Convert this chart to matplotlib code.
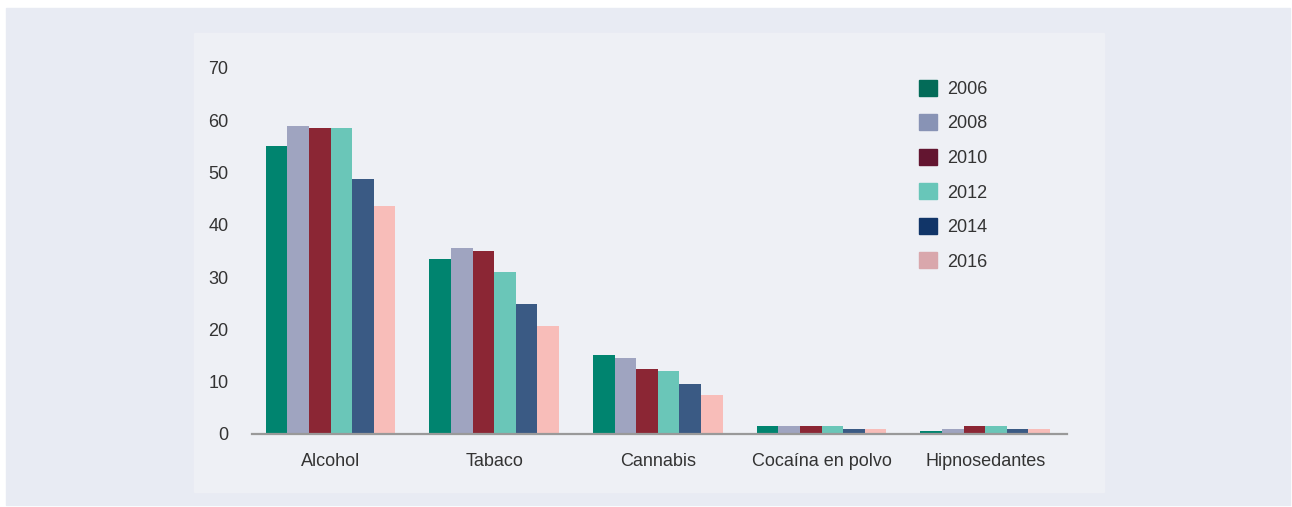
import matplotlib
matplotlib.use("Agg")
import matplotlib.pyplot as plt
from matplotlib.patches import Rectangle, Patch
import numpy as np

categories = ["Alcohol", "Tabaco", "Cannabis", "Cocaína en polvo", "Hipnosedantes"]
years = ["2006", "2008", "2010", "2012", "2014", "2016"]
values = {
    "2006": [55.0, 33.5, 15.1, 1.6, 0.5],
    "2008": [59.0, 35.5, 14.5, 1.6, 1.0],
    "2010": [58.5, 35.0, 12.5, 1.6, 1.6],
    "2012": [58.5, 31.0, 12.0, 1.5, 1.5],
    "2014": [48.8, 24.8, 9.5, 1.0, 1.0],
    "2016": [43.6, 20.6, 7.4, 0.9, 1.0],
}
bar_colors = ["#00846f", "#9fa4c0", "#8b2634", "#6ac6b8", "#3a5a84", "#f8bdb9"]
legend_colors = ["#036b58", "#8893b5", "#631530", "#68c6b9", "#113568", "#d9a7ac"]

plt.rcParams['font.family'] = ['Liberation Sans', 'DejaVu Sans']
text_color = "#333333"

fig = plt.figure(figsize=(12.92, 5.07), dpi=100)
fig.patch.set_facecolor("white")
fig.patches.append(Rectangle((6/1292, 2/507), 1284/1292, 497/507,
                             transform=fig.transFigure, color="#e8ebf3", zorder=-2))
fig.patches.append(Rectangle((194/1292, 15/507), 910/1292, 459/507,
                             transform=fig.transFigure, color="#eef0f5", zorder=-1))

ax = fig.add_axes([252/1292, 73/507, 815/1292, 366/507])
ax.set_facecolor("none")

x = np.arange(len(categories))
width = 0.132
for i, y in enumerate(years):
    ax.bar(x + (i - 2.5) * width, values[y], width, color=bar_colors[i], zorder=2)

ax.set_xlim(-0.48, 4.5)
ax.set_ylim(0, 70)
ax.set_yticks(range(0, 71, 10))
ax.set_xticks(x)
ax.set_xticklabels(categories)
ax.tick_params(axis="both", length=0, labelsize=13, labelcolor=text_color)
ax.tick_params(axis="y", pad=17)
ax.tick_params(axis="x", pad=14)
for s in ["top", "right", "left"]:
    ax.spines[s].set_visible(False)
ax.spines["bottom"].set_color("#999999")
ax.spines["bottom"].set_linewidth(1.6)
ax.spines["bottom"].set_zorder(3)

handles = [Patch(color=c) for c in legend_colors]
leg = ax.legend(handles, years, loc="upper left", bbox_to_anchor=(0.818, 0.968),
                frameon=False, fontsize=13, handlelength=1.0, handleheight=1.0,
                labelspacing=0.9, handletextpad=0.6, borderpad=0, borderaxespad=0)
for t in leg.get_texts():
    t.set_color(text_color)

fig.savefig("out.png", dpi=100)
